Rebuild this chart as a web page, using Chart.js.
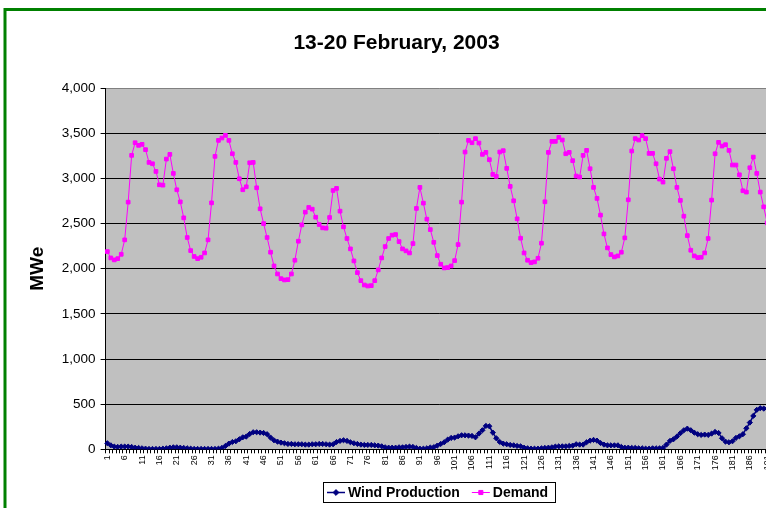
<!DOCTYPE html>
<html>
<head>
<meta charset="utf-8">
<script src="https://cdn.jsdelivr.net/npm/chart.js@4.4.1/dist/chart.umd.min.js"></script>
<style>
html,body{margin:0;padding:0;overflow:hidden;background:#fff;width:766px;height:508px;}
#c{position:absolute;left:0;top:0;}
</style>
</head>
<body>
<canvas id="c" width="800" height="508"></canvas>
<script>
const chartTitle = '13-20 February, 2003';
const yAxisTitle = 'MWe';
const seriesNames = ['Wind Production', 'Demand'];

const categories = ['1','2','3','4','5','6','7','8','9','10','11','12','13','14','15','16','17','18','19','20','21','22','23','24','25','26','27','28','29','30','31','32','33','34','35','36','37','38','39','40','41','42','43','44','45','46','47','48','49','50','51','52','53','54','55','56','57','58','59','60','61','62','63','64','65','66','67','68','69','70','71','72','73','74','75','76','77','78','79','80','81','82','83','84','85','86','87','88','89','90','91','92','93','94','95','96','97','98','99','100','101','102','103','104','105','106','107','108','109','110','111','112','113','114','115','116','117','118','119','120','121','122','123','124','125','126','127','128','129','130','131','132','133','134','135','136','137','138','139','140','141','142','143','144','145','146','147','148','149','150','151','152','153','154','155','156','157','158','159','160','161','162','163','164','165','166','167','168','169','170','171','172','173','174','175','176','177','178','179','180','181','182','183','184','185','186','187','188','189','190','191','192'];

const windProduction = [
  67,44,30,26,30,30,30,26,18,15,11,7,4,4,4,4,7,11,18,22,22,18,15,11,
  7,4,4,4,4,4,4,4,7,15,37,63,81,89,111,133,141,170,189,189,185,181,167,130,
  100,85,74,67,59,59,56,56,56,52,52,56,56,59,59,56,52,56,81,93,100,93,78,67,
  59,52,48,48,48,44,41,33,22,18,18,18,22,22,26,30,26,15,7,7,11,20,24,41,
  59,78,107,126,130,144,155,155,152,148,133,174,211,259,255,185,122,81,63,56,48,44,37,33,
  18,11,7,7,7,11,15,18,22,30,33,33,33,37,41,56,52,52,78,96,104,96,70,52,
  44,44,44,44,26,18,18,15,15,11,11,7,7,11,11,11,15,52,93,111,141,178,211,229,
  211,185,167,159,163,159,174,192,181,122,85,78,89,126,144,167,233,296,370,437,455,451,450,445
];

const demand = [
  2190,2120,2098,2112,2160,2320,2738,3256,3396,3367,3378,3319,3178,3163,3078,2930,2926,3215,3267,3056,2875,2741,2564,2346,
  2201,2136,2112,2127,2175,2320,2730,3245,3422,3448,3478,3422,3274,3178,2997,2875,2908,3174,3178,2897,2664,2500,2346,2183,
  2031,1942,1890,1876,1879,1942,2094,2305,2486,2627,2679,2660,2571,2490,2453,2449,2568,2867,2890,2638,2464,2335,2220,2087,
  1957,1868,1820,1809,1813,1868,1987,2120,2246,2335,2372,2379,2301,2220,2198,2175,2279,2668,2901,2727,2549,2434,2293,2146,
  2050,2009,2013,2031,2090,2268,2738,3293,3422,3396,3441,3393,3267,3289,3208,3045,3023,3293,3308,3112,2912,2753,2553,2338,
  2175,2094,2068,2076,2116,2283,2742,3289,3411,3411,3456,3426,3274,3289,3197,3027,3016,3256,3311,3108,2901,2779,2594,2386,
  2231,2157,2131,2142,2183,2342,2764,3304,3441,3426,3474,3441,3278,3278,3163,2993,2960,3223,3297,3108,2901,2757,2582,2367,
  2205,2142,2124,2127,2175,2335,2760,3274,3400,3359,3374,3311,3149,3149,3041,2864,2849,3119,3237,3056,2849,2686,2508,2350
];

const yTickValues = [0,500,1000,1500,2000,2500,3000,3500,4000];
const yTickLabels = ['0','500','1,000','1,500','2,000','2,500','3,000','3,500','4,000'];

const FONT = '"Liberation Sans", Arial, Helvetica, sans-serif';

const backgroundPlugin = {
  id: 'excelBackground',
  beforeDraw(chart) {
    const {ctx, chartArea: a, width, height} = chart;
    ctx.save();
    ctx.fillStyle = '#ffffff';
    ctx.fillRect(0, 0, width, height);
    ctx.fillStyle = '#C0C0C0';
    ctx.fillRect(a.left, a.top, a.right - a.left, a.bottom - a.top);
    ctx.strokeStyle = '#008000';
    ctx.lineWidth = 3;
    ctx.strokeRect(5, 9.5, width + 40, height + 40);
    ctx.restore();
  }
};

function drawMarker(ctx, style, x, y, r, color) {
  ctx.fillStyle = color;
  ctx.strokeStyle = color;
  ctx.lineWidth = 1;
  ctx.beginPath();
  if (style === 'rectRot') {
    ctx.moveTo(x, y - r); ctx.lineTo(x + r, y); ctx.lineTo(x, y + r); ctx.lineTo(x - r, y);
    ctx.closePath();
  } else {
    const s = r * Math.SQRT1_2;
    ctx.rect(x - s, y - s, 2 * s, 2 * s);
  }
  ctx.fill();
  ctx.stroke();
}

const boxLegendPlugin = {
  id: 'boxLegend',
  afterDraw(chart) {
    const ctx = chart.ctx;
    const box = {x: 323.5, y: 482.5, w: 232, h: 20};
    ctx.save();
    ctx.fillStyle = '#ffffff';
    ctx.fillRect(box.x, box.y, box.w, box.h);
    ctx.strokeStyle = '#000000';
    ctx.lineWidth = 1;
    ctx.strokeRect(box.x, box.y, box.w, box.h);
    ctx.font = 'bold 14px ' + FONT;
    ctx.textBaseline = 'middle';
    ctx.textAlign = 'left';
    const cy = box.y + box.h / 2;
    let x = 327;
    chart.data.datasets.forEach(ds => {
      ctx.strokeStyle = ds.borderColor;
      ctx.lineWidth = ds.borderWidth;
      ctx.beginPath();
      ctx.moveTo(x, cy); ctx.lineTo(x + 18, cy);
      ctx.stroke();
      drawMarker(ctx, ds.pointStyle, x + 9, cy, ds.pointRadius + 0.3, ds.borderColor);
      ctx.fillStyle = '#000000';
      ctx.fillText(ds.label, x + 21, cy + 1);
      x += 21 + ctx.measureText(ds.label).width + 12;
    });
    ctx.restore();
  }
};

new Chart(document.getElementById('c'), {
  type: 'line',
  data: {
    labels: categories,
    datasets: [
      {
        label: seriesNames[0],
        data: windProduction,
        borderColor: '#000080',
        backgroundColor: '#000080',
        borderWidth: 1.5,
        pointStyle: 'rectRot',
        pointRadius: 2.6,
        pointBorderWidth: 1,
        tension: 0,
        fill: false
      },
      {
        label: seriesNames[1],
        data: demand,
        borderColor: '#FF00FF',
        backgroundColor: '#FF00FF',
        borderWidth: 1,
        pointStyle: 'rect',
        pointRadius: 2.6,
        pointBorderWidth: 1,
        tension: 0,
        fill: false
      }
    ]
  },
  options: {
    responsive: false,
    devicePixelRatio: 1,
    animation: false,
    events: [],
    layout: {padding: {left: 20.6, right: 27.6, top: 0, bottom: 28.7}},
    plugins: {
      legend: {display: false},
      tooltip: {enabled: false},
      title: {
        display: true,
        text: chartTitle,
        color: '#000',
        font: {family: FONT, size: 21, weight: 'bold'},
        padding: {top: 30.4, bottom: 32.6}
      }
    },
    scales: {
      x: {
        type: 'category',
        offset: true,
        grid: {display: true, drawOnChartArea: false, drawTicks: true, tickLength: 4, color: '#000', offset: true},
        border: {display: true, color: '#000', width: 1},
        ticks: {
          autoSkip: false, maxRotation: 90, minRotation: 90, padding: 2,
          color: '#000', font: {family: FONT, size: 9},
          callback: (v, i) => (i % 5 === 0 ? categories[i] : '')
        },
        afterFit(s) { s.height = 30; }
      },
      y: {
        min: 0, max: 4000,
        afterBuildTicks(s) { s.ticks = yTickValues.map(v => ({value: v})); },
        ticks: {
          color: '#000', padding: 5, font: {family: FONT, size: 13.5},
          callback: (v) => yTickLabels[yTickValues.indexOf(v)]
        },
        grid: {
          color: (c) => (c.tick && c.tick.value === 4000 ? '#808080' : '#000'),
          tickColor: '#000', tickLength: 5, lineWidth: 1
        },
        border: {display: true, color: '#000', width: 1},
        title: {
          display: true, text: yAxisTitle, color: '#000',
          font: {family: FONT, size: 19, weight: 'bold'},
          padding: {top: 6, bottom: 0}
        },
        afterFit(s) { s.width = 85; }
      }
    }
  },
  plugins: [backgroundPlugin, boxLegendPlugin]
});
</script>
</body>
</html>
